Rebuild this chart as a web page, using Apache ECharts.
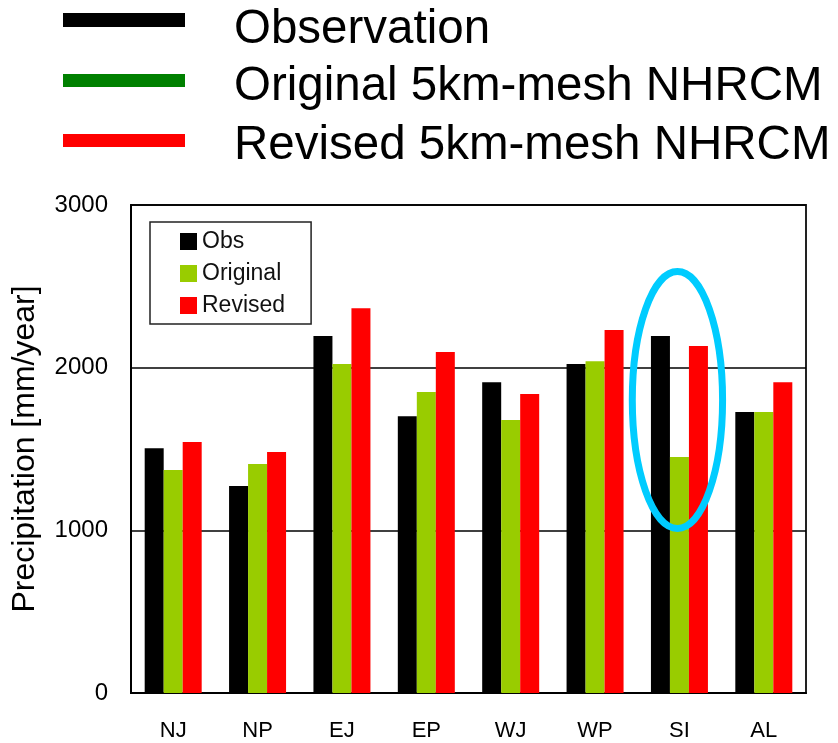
<!DOCTYPE html>
<html><head><meta charset="utf-8">
<script src="https://cdn.jsdelivr.net/npm/echarts@6/dist/echarts.min.js"></script>
<style>html,body{margin:0;padding:0;background:#fff}#c{width:838px;height:743px}</style>
</head><body><div id="c"></div>
<script>
const categories = ['NJ','NP','EJ','EP','WJ','WP','SI','AL'];
const obs      = [1505,1272,2194,1702,1911,2022,2194,1727];
const original = [1371,1408,2022,1850,1678,2040,1451,1727];
const revised  = [1543,1481,2366,2096,1838,2231,2133,1911];
const seriesNames = ['Obs','Original','Revised'];
const seriesColors = ['#000000','#99cc00','#ff0000'];
const topLegendNames = ['Observation','Original 5km-mesh NHRCM','Revised 5km-mesh NHRCM'];
const topLegendColors = ['#000000','#008000','#ff0000'];
const yTicks = [0,1000,2000,3000];
const yTitle = 'Precipitation [mm/year]';
const highlight = {category:'SI', top:2612, bottom:990};

const FONT = '"Liberation Sans", Arial, sans-serif';
const chart = echarts.init(document.getElementById('c'), null, {renderer:'canvas'});

const topLegendGraphics = [];
const swatchY = [13, 74, 134];
const swatchH = [14, 13, 13];
const textY = [30, 87, 146];
topLegendNames.forEach((n,i)=>{
  topLegendGraphics.push({type:'rect', id:'sw'+i, shape:{x:63,y:swatchY[i],width:122,height:swatchH[i]}, style:{fill:topLegendColors[i]}});
  topLegendGraphics.push({type:'text', id:'tx'+i, x:234, y:textY[i], style:{text:n, fill:'#000', font:'47.5px '+FONT, textVerticalAlign:'middle', textAlign:'left'}});
});

const dataArr = [obs, original, revised];
chart.setOption({
  animation:false,
  backgroundColor:'#fff',
  grid:{left:131, right:32, top:205, bottom:50, show:true, borderColor:'#222', borderWidth:2, containLabel:false},
  legend:{
    data:seriesNames, orient:'vertical', left:150, top:222,
    itemWidth:17, itemHeight:17, itemGap:9, icon:'rect',
    padding:[8,26,7,30], borderColor:'#222', borderWidth:1.5, backgroundColor:'#fff',
    textStyle:{fontSize:23, lineHeight:22, fontFamily:FONT, color:'#111'}
  },
  xAxis:{type:'category', data:categories,
    axisLine:{lineStyle:{color:'#000', width:2}}, axisTick:{show:false},
    axisLabel:{fontSize:22, fontFamily:FONT, color:'#000', margin:27}},
  yAxis:{type:'value', min:yTicks[0], max:yTicks[yTicks.length-1], interval:1000,
    name:yTitle, nameLocation:'middle', nameGap:90,
    nameTextStyle:{fontSize:32, fontFamily:FONT, color:'#000'},
    axisLine:{show:true, lineStyle:{color:'#000', width:2}}, axisTick:{show:false},
    axisLabel:{fontSize:24, fontFamily:FONT, color:'#000', margin:23, formatter:(v)=>String(v)},
    splitLine:{lineStyle:{color:'#000', width:1.5}}},
  series: seriesNames.map((n,i)=>({name:n, type:'bar', data:dataArr[i], barWidth:19, barGap:'0%',
    itemStyle:{color:seriesColors[i]}})),
  graphic: topLegendGraphics
});

const cx = chart.convertToPixel({xAxisIndex:0}, highlight.category);
const band = (838-131-32)/categories.length;
const yT = chart.convertToPixel({yAxisIndex:0}, highlight.top);
const yB = chart.convertToPixel({yAxisIndex:0}, highlight.bottom);
chart.setOption({graphic: topLegendGraphics.concat([{
  type:'ellipse', id:'hl', z:100,
  shape:{cx:cx-2, cy:(yT+yB)/2, rx:band*0.535, ry:(yB-yT)/2-3.5},
  style:{fill:'none', stroke:'#00ccff', lineWidth:7}
}])});
</script></body></html>
